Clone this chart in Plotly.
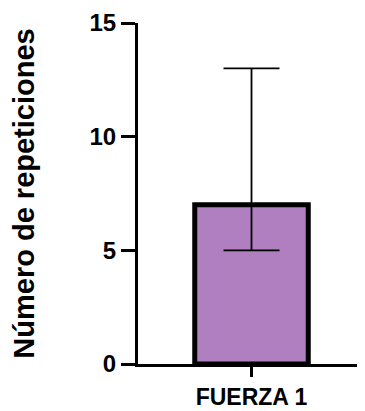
import plotly.graph_objects as go

categories = ["FUERZA 1"]
means = [7]
err_plus = [6]
err_minus = [2]
y_ticks = [0, 5, 10, 15]

fig = go.Figure()
fig.add_trace(go.Bar(
    x=categories, y=means, width=0.5,
    marker=dict(color="#AF7FC0", line=dict(color="black", width=5)),
    error_y=dict(type="data", symmetric=False, array=err_plus, arrayminus=err_minus,
                 color="black", thickness=1.8, width=28),
))

font = "Liberation Sans, Arial, sans-serif"
fig.update_layout(
    width=357, height=403,
    margin=dict(l=130, r=0, t=15, b=47, autoexpand=False),
    paper_bgcolor="white", plot_bgcolor="white",
    showlegend=False,
    font=dict(family=font, color="black"),
)
fig.update_xaxes(
    range=[-0.5, 0.5], showline=True, linecolor="black", linewidth=3,
    ticks="outside", ticklen=10, tickwidth=3, tickcolor="black",
    tickfont=dict(size=23, family=font, weight="bold"),
    showgrid=False, zeroline=False,
)
fig.update_yaxes(
    range=[0, 15], tickvals=y_ticks, showline=True, linecolor="black", linewidth=3,
    ticks="outside", ticklen=14, tickwidth=3, tickcolor="black",
    tickfont=dict(size=24, family=font, weight="bold"),
    showgrid=False, zeroline=False,
    title=dict(text="Número de repeticiones", font=dict(size=29, family=font, weight="bold"), standoff=47),
)
fig.write_html("out.html")
